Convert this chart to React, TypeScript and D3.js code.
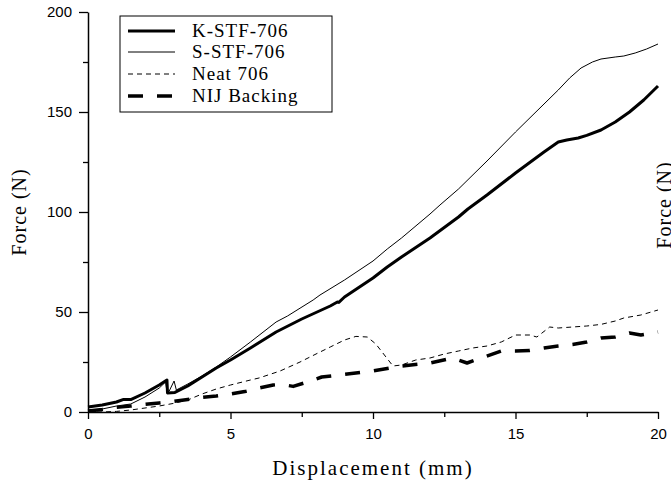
import * as d3 from "d3";
import { useEffect, useRef } from "react";

// displacement (mm) / force (N)
const kstf: [number, number][] = [
  [0, 2.5], [0.5, 3.5], [1.0, 5], [1.25, 6.3], [1.5, 6.2], [2.0, 9.5], [2.5, 13.5], [2.77, 16],
  [2.79, 9.5], [3.05, 9.8], [3.5, 13], [4.0, 17.5], [4.5, 22], [5.0, 26], [5.7, 32], [6.6, 40],
  [7.5, 46.5], [8.5, 53], [8.75, 55], [8.8, 54.8], [9.0, 57.5], [10, 67], [10.5, 72.5], [11, 77.5],
  [12, 87], [13, 97.5], [13.33, 101.5], [14, 108.5], [15, 119.5], [16, 130], [16.5, 135],
  [16.8, 136], [17.2, 137], [17.5, 138.3], [18, 141], [18.5, 145], [19, 150], [19.5, 156], [20, 163],
];

const sstf: [number, number][] = [
  [0, 0.5], [0.5, 1.5], [1.0, 3], [1.5, 4], [2.0, 7.5], [2.5, 12], [2.72, 15], [2.78, 9.5],
  [2.85, 10.5], [3.02, 15.5], [3.1, 11], [3.5, 14], [4.0, 18], [4.5, 22.5], [5.0, 27.5], [5.7, 35],
  [6.6, 45], [7.0, 48], [7.9, 56], [8.14, 58.5], [9, 66], [10, 75.5], [10.5, 81.5], [11, 87],
  [12, 99], [12.35, 103.5], [13, 111.5], [14, 125.5], [15, 140], [16, 154], [16.5, 161],
  [16.9, 167], [17.3, 172], [17.7, 175], [18, 176.5], [18.5, 177.5], [18.8, 178], [19.2, 179.5],
  [19.6, 181.5], [20, 184],
];

const neat: [number, number][] = [
  [0, 0], [0.5, 0], [1.0, 0.3], [1.5, 1], [2.0, 2], [2.5, 3], [3.0, 4.3], [3.5, 6], [4.0, 9],
  [4.5, 11.5], [5.0, 13.5], [5.7, 16], [6.0, 17], [6.74, 20.5], [7.44, 25], [8.0, 29], [8.5, 32.5],
  [9.0, 36], [9.4, 37.8], [9.8, 37.5], [10.1, 34], [10.4, 28.5], [10.7, 23], [11, 23.5], [11.5, 26],
  [12, 27], [12.5, 29], [13, 30.5], [13.5, 32], [14, 33], [14.5, 35], [15, 38.5], [15.5, 38.5],
  [15.75, 37.5], [16.2, 42.5], [16.5, 42], [16.8, 42.3], [17.5, 43], [18, 43.8], [18.5, 45.5],
  [18.8, 47], [19.4, 48.5], [20, 51],
];

const nij: [number, number][] = [
  [0, 0.5], [0.5, 1.2], [1.0, 2.3], [1.5, 3], [2.0, 3.8], [2.5, 4.5], [3.0, 5.3], [3.5, 6.3],
  [4.0, 7.3], [4.5, 8], [5.0, 9], [5.5, 10.2], [6.0, 12], [6.5, 13.5], [6.8, 13.8], [7.2, 12.8],
  [7.7, 15], [8.2, 17.5], [9.0, 18.8], [10, 20.5], [11, 23], [12, 24.5], [12.8, 27], [13.3, 24.5],
  [13.8, 27], [14.5, 30.5], [15, 30.5], [15.5, 30.8], [16, 32], [16.5, 33], [17, 33.8], [17.5, 35],
  [18, 37], [18.5, 37.5], [19, 39.5], [19.4, 38.5], [20, 40],
];

const seriesNames = ["K-STF-706", "S-STF-706", "Neat 706", "NIJ Backing"];
const seriesData = [kstf, sstf, neat, nij];

const xTicks = [0, 5, 10, 15, 20];
const xMinorTicks = [2.5, 7.5, 12.5, 17.5];
const yTicks = [0, 50, 100, 150, 200];
const yMinorTicks = [25, 75, 125, 175];

// line look per series
const strokeWidths = [3, 1, 1, 3.5];
const dashes = ["none", "5 4", "5 4", "15 14"];
dashes[1] = "none";

const W = 671;
const H = 480;
const margin = { top: 12, right: 13, bottom: 68, left: 88 };

const App = () => {
  const ref = useRef<SVGSVGElement>(null);

  useEffect(() => {
    const svg = d3.select(ref.current);
    svg.selectAll("*").remove();

    const x = d3.scaleLinear().domain([0, 20]).range([margin.left, W - margin.right]);
    const y = d3.scaleLinear().domain([0, 200]).range([H - margin.bottom, margin.top]);

    const tickFont = "'Liberation Sans', Arial, sans-serif";
    const serif = "'Liberation Serif', 'Times New Roman', serif";

    // axes
    const gx = svg.append("g").attr("transform", `translate(0,${y(0)})`);
    gx.call(d3.axisBottom(x).tickValues(xTicks).tickSize(7).tickSizeOuter(0).tickPadding(9));
    const gxm = svg.append("g").attr("transform", `translate(0,${y(0)})`);
    gxm.call(d3.axisBottom(x).tickValues(xMinorTicks).tickSize(5).tickSizeOuter(0).tickFormat(() => ""));
    gxm.select(".domain").remove();

    const gy = svg.append("g").attr("transform", `translate(${x(0)},0)`);
    gy.call(d3.axisLeft(y).tickValues(yTicks).tickSize(9).tickSizeOuter(0).tickPadding(7));
    const gym = svg.append("g").attr("transform", `translate(${x(0)},0)`);
    gym.call(d3.axisLeft(y).tickValues(yMinorTicks).tickSize(5).tickSizeOuter(0).tickFormat(() => ""));
    gym.select(".domain").remove();

    svg.selectAll(".domain").attr("stroke", "#000").attr("stroke-width", 1.5);
    svg.selectAll(".tick line").attr("stroke", "#000").attr("stroke-width", 1.3);
    svg.selectAll(".tick text")
      .attr("font-family", tickFont)
      .attr("font-size", 15)
      .attr("fill", "#000");

    // curves
    const line = d3.line<[number, number]>()
      .x((d) => x(d[0]))
      .y((d) => y(d[1]));

    seriesData.forEach((data, i) => {
      svg.append("path")
        .datum(data)
        .attr("d", line)
        .attr("fill", "none")
        .attr("stroke", "#000")
        .attr("stroke-width", strokeWidths[i])
        .attr("stroke-dasharray", dashes[i])
        .attr("stroke-linejoin", "round");
    });

    // legend
    const lg = svg.append("g");
    lg.append("rect")
      .attr("x", 120).attr("y", 16).attr("width", 212).attr("height", 96)
      .attr("fill", "#fff").attr("stroke", "#000").attr("stroke-width", 1);
    const rowY = [31, 52, 74, 96];
    seriesNames.forEach((name, i) => {
      lg.append("line")
        .attr("x1", 128).attr("x2", 175)
        .attr("y1", rowY[i]).attr("y2", rowY[i])
        .attr("stroke", "#000")
        .attr("stroke-width", strokeWidths[i])
        .attr("stroke-dasharray", dashes[i]);
      lg.append("text")
        .attr("x", 192).attr("y", rowY[i] + 6)
        .attr("font-family", serif)
        .attr("font-size", 19)
        .attr("letter-spacing", 1)
        .text(name);
    });

    // axis titles
    svg.append("text")
      .attr("x", (x(0) + x(20)) / 2)
      .attr("y", 475)
      .attr("text-anchor", "middle")
      .attr("font-family", serif)
      .attr("font-size", 21)
      .attr("letter-spacing", 2)
      .text("Displacement (mm)");

    svg.append("text")
      .attr("transform", `translate(26,${y(100)}) rotate(-90)`)
      .attr("text-anchor", "middle")
      .attr("font-family", serif)
      .attr("font-size", 20)
      .attr("letter-spacing", 1)
      .text("Force (N)");

    // neighbouring panel's label, cut by the edge
    svg.append("text")
      .attr("transform", `translate(671,${y(100) - 7}) rotate(-90)`)
      .attr("text-anchor", "middle")
      .attr("font-family", serif)
      .attr("font-size", 20)
      .attr("letter-spacing", 1)
      .text("Force (N)");
  }, []);

  return (
    <svg
      ref={ref}
      width={W}
      height={H}
      style={{ position: "absolute", left: 0, top: 0, background: "#fff" }}
    />
  );
};

export default App;
